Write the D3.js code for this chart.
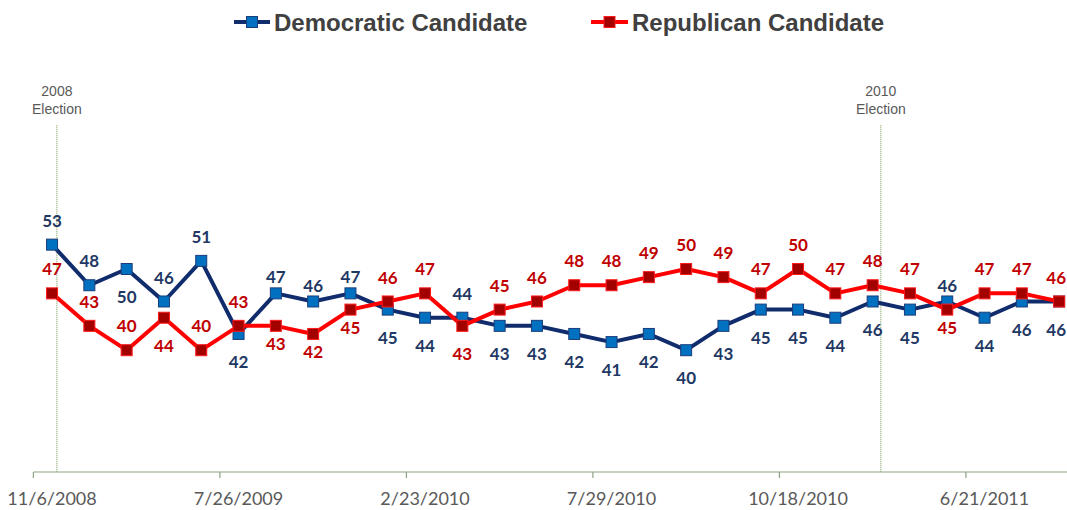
<!DOCTYPE html>
<html>
<head>
<meta charset="utf-8">
<script src="https://cdn.jsdelivr.net/npm/d3@7"></script>
<style>
  html, body { margin: 0; padding: 0; background: #ffffff; }
  svg { display: block; }
</style>
</head>
<body>
<div id="chart"></div>
<script>
// ---- Data ----
const seriesNames = ["Democratic Candidate", "Republican Candidate"];
const demValues = [53, 48, 50, 46, 51, 42, 47, 46, 47, 45, 44, 44, 43, 43, 42, 41, 42, 40, 43, 45, 45, 44, 46, 45, 46, 44, 46, 46];
const repValues = [47, 43, 40, 44, 40, 43, 43, 42, 45, 46, 47, 43, 45, 46, 48, 48, 49, 50, 49, 47, 50, 47, 48, 47, 45, 47, 47, 46];
const tickLabels = ["11/6/2008", "7/26/2009", "2/23/2010", "7/29/2010", "10/18/2010", "6/21/2011"];
const tickEvery = 5;
// label side: A = above, a = above (close), B = below, b = below (close)
const demLabelSide = ["A","A","B","A","A","B","a","a","a","B","B","A","B","B","B","B","B","B","B","B","B","B","B","B","a","B","B","B"];
const repLabelSide = ["A","A","A","B","A","A","b","b","b","A","A","B","A","A","A","A","A","A","A","A","A","A","A","A","b","A","A","A"];
const elections = [{ year: "2008", label: "Election", at: 0.13 }, { year: "2010", label: "Election", at: 22.22 }];

// ---- Layout ----
const W = 1067, H = 510;
const svg = d3.select("#chart").append("svg").attr("width", W).attr("height", H);
svg.append("rect").attr("width", W).attr("height", H).attr("fill", "#ffffff");

const n = demValues.length;
const step = 37.3;
const x = d3.scaleBand().domain(d3.range(n)).range([33.4, 33.4 + n * step]).padding(0);
const xc = i => x(i) + x.bandwidth() / 2;
const xPos = d3.scaleLinear().domain([0, n - 1]).range([xc(0), xc(n - 1)]);
const y = d3.scaleLinear().domain([25, 70]).range([472, 472 - 45 * 8.12]);

const axisColor = "#8FA383";
const offsets = { A: -24, a: -16, B: 28, b: 18 };

// ---- Election reference lines ----
elections.forEach(e => {
  const ex = xPos(e.at);
  svg.append("line")
    .attr("x1", ex).attr("x2", ex)
    .attr("y1", y(67.7)).attr("y2", y(25))
    .attr("stroke", "#6E8F4E").attr("stroke-width", 1)
    .attr("stroke-dasharray", "1,1");
  const t = svg.append("text")
    .attr("x", ex).attr("text-anchor", "middle")
    .attr("font-family", "Liberation Sans, Arial, sans-serif")
    .attr("font-size", 14).attr("fill", "#595959");
  t.append("tspan").attr("x", ex).attr("y", 96).text(e.year);
  t.append("tspan").attr("x", ex).attr("y", 114).text(e.label);
});

// ---- X axis ----
const axisG = svg.append("g");
axisG.append("line")
  .attr("x1", x.range()[0]).attr("x2", x.range()[1])
  .attr("y1", y(25)).attr("y2", y(25))
  .attr("stroke", axisColor).attr("stroke-width", 1.2);
tickLabels.forEach((lab, k) => {
  const i = k * tickEvery;
  axisG.append("line")
    .attr("x1", x(i)).attr("x2", x(i))
    .attr("y1", y(25)).attr("y2", y(25) + 6)
    .attr("stroke", axisColor).attr("stroke-width", 1.2);
  axisG.append("text")
    .attr("x", xc(i)).attr("y", 505)
    .attr("text-anchor", "middle")
    .attr("font-family", "Lato, 'Open Sans', sans-serif")
    .attr("font-size", 18).attr("fill", "#595959")
    .text(lab);
});

// ---- Series ----
const series = [
  { name: seriesNames[0], values: demValues, sides: demLabelSide, line: "#102C6C", fill: "#0070C0", stroke: "#1B3D7A", label: "#1F3864" },
  { name: seriesNames[1], values: repValues, sides: repLabelSide, line: "#FF0000", fill: "#A30000", stroke: "#FF1A1A", label: "#C00000" }
];
const lineGen = d3.line().x((d, i) => xc(i)).y(d => y(d));
const ms = 11;

series.forEach(s => {
  svg.append("path")
    .datum(s.values)
    .attr("d", lineGen)
    .attr("fill", "none")
    .attr("stroke", s.line)
    .attr("stroke-width", 4)
    .attr("stroke-linejoin", "round");
  svg.append("g").selectAll("rect")
    .data(s.values)
    .join("rect")
    .attr("x", (d, i) => xc(i) - ms / 2)
    .attr("y", d => y(d) - ms / 2)
    .attr("width", ms).attr("height", ms)
    .attr("fill", s.fill)
    .attr("stroke", s.stroke).attr("stroke-width", 1);
});

series.forEach(s => {
  svg.append("g").selectAll("text")
    .data(s.values)
    .join("text")
    .attr("x", (d, i) => xc(i))
    .attr("y", (d, i) => y(d) + offsets[s.sides[i]])
    .attr("dy", "0.36em")
    .attr("text-anchor", "middle")
    .attr("font-family", "Lato, 'Open Sans', sans-serif")
    .attr("font-weight", "bold")
    .attr("font-size", 17)
    .attr("fill", s.label)
    .text(d => d)
    .each(function () {
      // keep labels inside the picture at the right edge
      const w = this.getComputedTextLength();
      const cx = +this.getAttribute("x");
      if (cx + w / 2 > W - 1) this.setAttribute("x", W - 1 - w / 2);
    });
});

// ---- Legend ----
const legend = [
  { s: series[0], x0: 234, x1: 270, tx: 274 },
  { s: series[1], x0: 591, x1: 628, tx: 632 }
];
legend.forEach(l => {
  const ly = 22;
  svg.append("line")
    .attr("x1", l.x0).attr("x2", l.x1).attr("y1", ly).attr("y2", ly)
    .attr("stroke", l.s.line).attr("stroke-width", 4);
  svg.append("rect")
    .attr("x", (l.x0 + l.x1) / 2 - ms / 2).attr("y", ly - ms / 2)
    .attr("width", ms).attr("height", ms)
    .attr("fill", l.s.fill).attr("stroke", l.s.stroke).attr("stroke-width", 1);
  svg.append("text")
    .attr("x", l.tx).attr("y", 31)
    .attr("font-family", "Liberation Sans, Arial, sans-serif")
    .attr("font-weight", "bold").attr("font-size", 24)
    .attr("fill", "#404040")
    .text(l.s.name);
});
</script>
</body>
</html>
